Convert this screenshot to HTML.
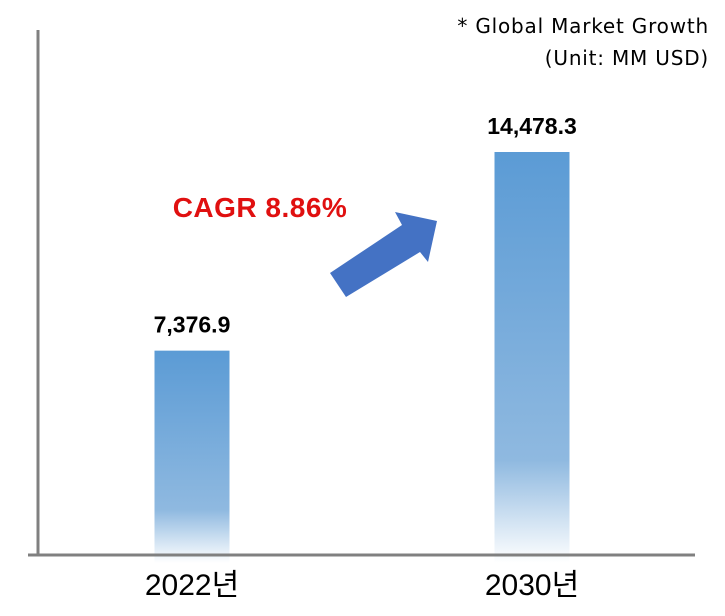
<!DOCTYPE html>
<html><head><meta charset="utf-8"><style>
body{margin:0;background:#fff;width:725px;height:611px;overflow:hidden}
svg text{font-family:"Liberation Sans","Noto Sans CJK KR",sans-serif}
</style></head><body>
<svg width="725" height="611">
<defs>
<linearGradient id="g" x1="0" y1="0" x2="0" y2="1">
<stop offset="0" stop-color="#5b9bd5"/><stop offset="0.75" stop-color="#8fb9e0"/><stop offset="1" stop-color="#ffffff"/>
</linearGradient>
</defs>
<g id="bars"></g>
<line x1="38" y1="30" x2="38" y2="556" stroke="#808080" stroke-width="3"/>
<line x1="28" y1="555" x2="695" y2="555" stroke="#808080" stroke-width="3"/>
<text x="709" y="33" text-anchor="end" font-size="20" letter-spacing="0.8" style="font-family:'DejaVu Sans',sans-serif" fill="#000">* Global Market Growth</text>
<text x="709" y="65" text-anchor="end" font-size="20" letter-spacing="0.8" style="font-family:'DejaVu Sans',sans-serif" fill="#000">(Unit: MM USD)</text>
<text x="260" y="217" text-anchor="middle" font-size="28" font-weight="bold" letter-spacing="0.5" fill="#e01010">CAGR 8.86%</text>
<polygon points="330,273 402,225 395,212 437,221 428,262 420,252 346,297" fill="#4472c4"/>
</svg>
<script>
const categories=["2022년","2030년"];
const values=[7376.9,14478.3];
const valueLabels=["7,376.9","14,478.3"];
const svg=document.querySelector('svg'),g=document.getElementById('bars');
const NS="http://www.w3.org/2000/svg";
const y=v=>555-v*(405/14478.3);
const xc=i=>192+i*340;
values.forEach((v,i)=>{
 const r=document.createElementNS(NS,'rect');
 r.setAttribute('x',xc(i)-37.5);r.setAttribute('y',y(v)+2);
 r.setAttribute('width',75);r.setAttribute('height',561-y(v));
 r.setAttribute('fill','url(#g)');
 
 
 g.appendChild(r);
 const t=document.createElementNS(NS,'text');
 t.setAttribute('x',xc(i));t.setAttribute('y',y(v)-16);
 t.setAttribute('text-anchor','middle');t.setAttribute('font-size','23');t.setAttribute('font-weight','bold');
 t.textContent=valueLabels[i];
 
 
 svg.appendChild(t);
 const c=document.createElementNS(NS,'text');
 c.setAttribute('x',xc(i));c.setAttribute('y',595);
 c.setAttribute('text-anchor','middle');c.setAttribute('font-size','30');
 c.textContent=categories[i];
 
 
 svg.appendChild(c);
});
</script>
</body></html>
